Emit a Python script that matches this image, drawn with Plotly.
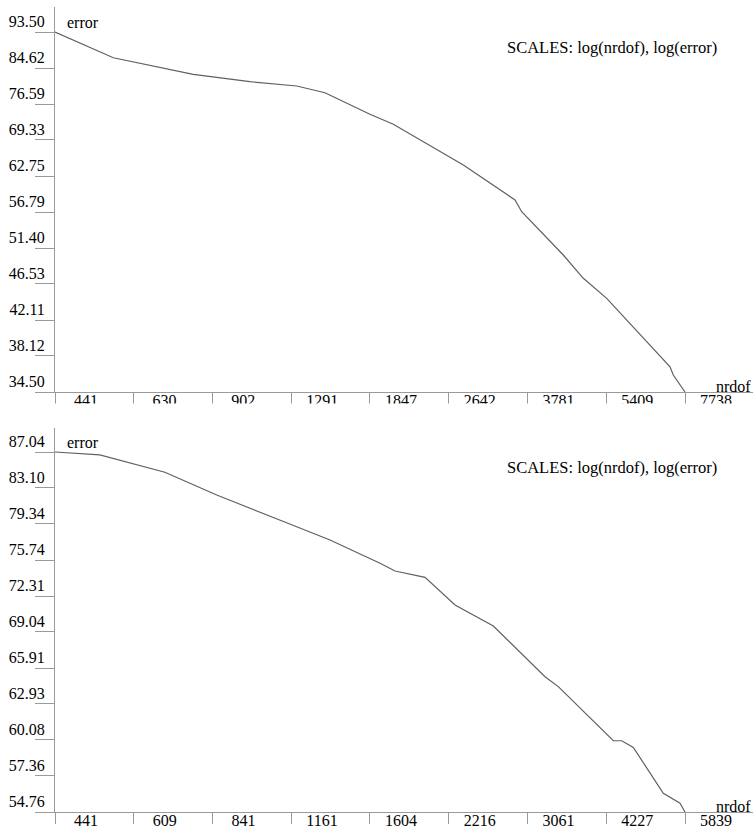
import math
import plotly.graph_objects as go

# ---------------- data ----------------
top_nrdof = [441, 575, 827, 1070, 1324, 1505, 1847, 2054, 2824, 3572, 3682,
             4449, 4873, 5420, 7228, 7337, 7738]
top_error = [93.50, 87.07, 83.16, 81.48, 80.51, 79.03, 74.44, 72.41, 64.69,
             58.72, 56.84, 50.42, 47.27, 44.72, 37.00, 36.16, 34.50]
top_x_ticks = [441, 630, 902, 1291, 1847, 2642, 3781, 5409, 7738]
top_y_ticks = [93.50, 84.62, 76.59, 69.33, 62.75, 56.79, 51.40, 46.53, 42.11, 38.12, 34.50]

bot_nrdof = [441, 530, 692, 856, 1188, 1362, 1672, 1778, 2011, 2274, 2661,
             3289, 3473, 4352, 4504, 4724, 5342, 5721, 5839]
bot_error = [87.04, 86.71, 84.80, 82.35, 79.06, 77.72, 75.42, 74.68, 74.07,
             71.48, 69.57, 65.18, 64.35, 60.02, 60.02, 59.51, 56.09, 55.38, 54.76]
bot_x_ticks = [441, 609, 841, 1161, 1604, 2216, 3061, 4227, 5839]
bot_y_ticks = [87.04, 83.10, 79.34, 75.74, 72.31, 69.04, 65.91, 62.93, 60.08, 57.36, 54.76]

x_title = "nrdof"
y_title = "error"
scales_note = "SCALES: log(nrdof), log(error)"

# ---------------- layout constants ----------------
W, H = 754, 826
FONT = '"Liberation Serif", "Times New Roman", Times, serif'
AX = "#9a9a9a"
LINE = "#606060"

X0, X_DATA_END, X_END = 55, 685, 753          # pixel positions
PANEL_OFF = 420


def px(x):
    return x / W


def py(y):
    return 1 - y / H


def panel(idx, xs, ys, xt, yt, top_px, axis_px, ytop_tick_px):
    off = idx * PANEL_OFF
    xa = "xaxis" if idx == 0 else "xaxis2"
    ya = "yaxis" if idx == 0 else "yaxis2"
    xr0 = math.log10(min(xt))
    xspan = math.log10(max(xt)) - xr0
    xr1 = xr0 + xspan * (X_END - X0) / (X_DATA_END - X0)
    yr0 = math.log10(min(yt))
    yspan = math.log10(max(yt)) - yr0
    yr1 = yr0 + yspan * (axis_px - top_px) / (axis_px - ytop_tick_px)
    xaxis = dict(
        type="log", range=[xr0, xr1], domain=[px(X0), px(X_END)],
        anchor="y" if idx == 0 else "y2", automargin=False,
        showline=True, linecolor=AX, linewidth=1,
        ticks="outside", ticklen=11, tickcolor=AX, tickwidth=1,
        tickvals=xt, ticktext=[str(v) for v in xt],
        tickfont=dict(family=FONT, size=16, color="black"),
        ticklabelshift=31, ticklabelstandoff=-17,
        showgrid=False, zeroline=False, fixedrange=True,
    )
    yaxis = dict(
        type="log", range=[yr0, yr1], domain=[py(axis_px), py(top_px)],
        anchor="x" if idx == 0 else "x2", automargin=False,
        showline=True, linecolor=AX, linewidth=1,
        ticks="outside", ticklen=19, tickcolor=AX, tickwidth=1,
        tickvals=yt, ticktext=["%.2f" % v for v in yt],
        tickfont=dict(family=FONT, size=16, color="black"),
        ticklabelshift=-11, ticklabelstandoff=-13,
        showgrid=False, zeroline=False, fixedrange=True,
    )
    trace = go.Scatter(x=xs, y=ys, mode="lines",
                       line=dict(color=LINE, width=1.2),
                       xaxis="x" if idx == 0 else "x2",
                       yaxis="y" if idx == 0 else "y2",
                       hoverinfo="skip")
    annots = [
        dict(text=y_title, x=px(65), y=py(22 + off), xref="paper", yref="paper",
             xanchor="left", yanchor="middle", showarrow=False,
             font=dict(family=FONT, size=16, color="black")),
        dict(text=x_title, x=px(753), y=py(386 + off), xref="paper", yref="paper",
             xanchor="right", yanchor="middle", showarrow=False,
             font=dict(family=FONT, size=16, color="black")),
        dict(text=scales_note, x=px(505), y=py(47 + off), xref="paper", yref="paper",
             xanchor="left", yanchor="middle", showarrow=False,
             font=dict(family=FONT, size=16.5, color="black")),
    ]
    return xa, xaxis, ya, yaxis, trace, annots


fig = go.Figure()
layout = dict(width=W, height=H, margin=dict(l=0, r=0, t=0, b=0, pad=0),
              autosize=False,
              paper_bgcolor="white", plot_bgcolor="white", showlegend=False,
              font=dict(family=FONT, size=16, color="black"))
annotations = []
for i, (xs, ys, xt, yt, top_px, axis_px, ttick) in enumerate([
        (top_nrdof, top_error, top_x_ticks, top_y_ticks, 7, 392, 32),
        (bot_nrdof, bot_error, bot_x_ticks, bot_y_ticks, 428, 812, 452)]):
    xa, xaxis, ya, yaxis, trace, annots = panel(i, xs, ys, xt, yt, top_px, axis_px, ttick)
    layout[xa] = xaxis
    layout[ya] = yaxis
    fig.add_trace(trace)
    annotations += annots

layout["annotations"] = annotations
# the original top canvas is clipped just below its tick marks
layout["shapes"] = [dict(type="rect", xref="paper", yref="paper",
                         x0=0, x1=1, y0=py(426), y1=py(403.5),
                         fillcolor="white", line=dict(width=0), layer="above")]
fig.update_layout(**layout)
fig.write_html("out.html", config={"displayModeBar": False},
               post_script="document.body.style.margin='0';"
                           "document.body.style.overflow='hidden';")
